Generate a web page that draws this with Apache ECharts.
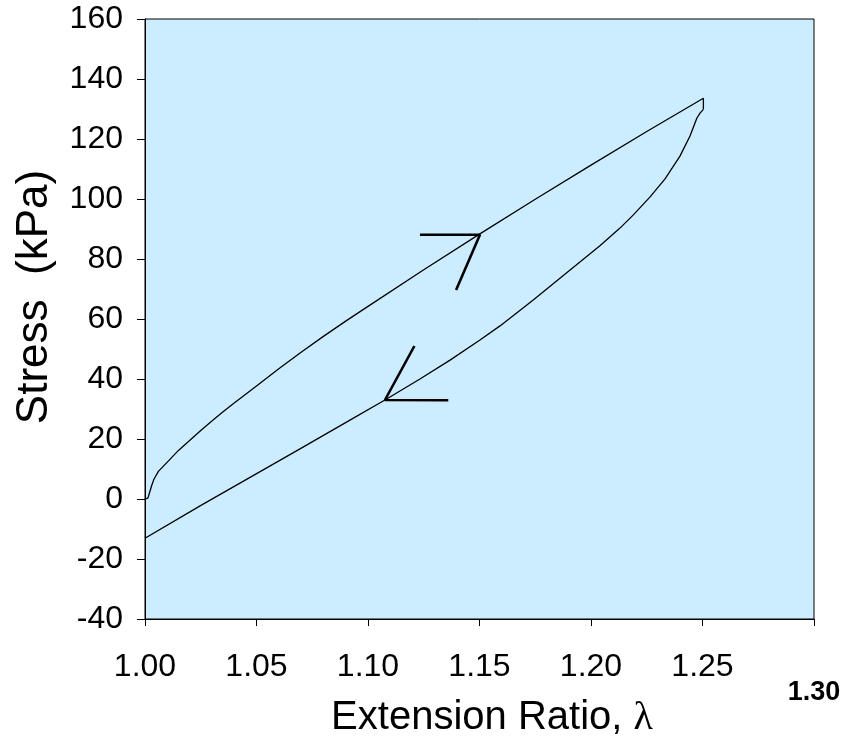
<!DOCTYPE html>
<html>
<head>
<meta charset="utf-8">
<script src="https://cdn.jsdelivr.net/npm/echarts@6/dist/echarts.min.js"></script>
<style>
  html, body { margin: 0; padding: 0; background: #fff; }
  #main { width: 848px; height: 749px; }
</style>
</head>
<body>
<div id="main"></div>
<script>
// loading branch (extension ratio, stress kPa)
var loadX = [1.0000, 1.0013, 1.0020, 1.0030, 1.0040, 1.0060, 1.0100, 1.0150, 1.0200, 1.0250,
  1.0300, 1.0350, 1.0400, 1.0500, 1.0600, 1.0700, 1.0800, 1.0900, 1.1000, 1.1250,
  1.1500, 1.1750, 1.2000, 1.2250, 1.2504, 1.2504];
var loadY = [0.0, 0.3, 2.0, 4.5, 6.6, 9.2, 12.3, 16.2, 19.5, 22.8,
  26.0, 29.1, 32.0, 37.7, 43.4, 48.9, 54.2, 59.3, 64.2, 76.4,
  88.3, 99.9, 111.3, 122.5, 133.6, 129.9];

// unloading branch
var unloadX = [1.2504, 1.2489, 1.2475, 1.2444, 1.2399, 1.2332, 1.2265, 1.2190, 1.2130, 1.2040,
  1.1891, 1.1741, 1.1592, 1.1502, 1.1368, 1.1233, 1.1076, 1.0919, 1.0695, 1.0471,
  1.0247, 1.0000];
var unloadY = [129.9, 128.6, 127.0, 121.0, 114.3, 106.7, 100.7, 94.7, 90.3, 84.4,
  75.4, 66.3, 57.7, 53.0, 46.3, 40.0, 33.0, 26.3, 16.7, 7.2,
  -2.3, -13.1];

// direction arrows
var arrowUpX = [1.1233, 1.1502, 1.1395];
var arrowUpY = [88.1, 88.1, 69.7];
var arrowDownX = [1.1208, 1.1076, 1.1360];
var arrowDownY = [51.0, 33.0, 32.9];

var xTicks = ['1.00', '1.05', '1.10', '1.15', '1.20', '1.25', '1.30'];

function pairs(xs, ys) {
  var out = [];
  for (var i = 0; i < xs.length; i++) out.push([xs[i], ys[i]]);
  return out;
}

var chart = echarts.init(document.getElementById('main'));
var font = 'Liberation Sans, Arial, sans-serif';

function curve(data, w) {
  return {
    type: 'line',
    data: data,
    showSymbol: false,
    symbol: 'none',
    lineStyle: { color: '#000', width: w },
    silent: true
  };
}

chart.setOption({
  backgroundColor: '#fff',
  animation: false,
  grid: {
    left: 145, right: 34, top: 19, bottom: 130,
    containLabel: false,
    outerBoundsMode: 'none',
    show: true,
    backgroundColor: '#CCECFF',
    borderColor: '#000',
    borderWidth: 1
  },
  xAxis: {
    type: 'value',
    min: 1.0, max: 1.3, interval: 0.05,
    name: 'Extension Ratio, {l|λ}',
    nameLocation: 'middle',
    nameGap: 79,
    nameMoveOverlap: false,
    nameTextStyle: {
      color: '#000', fontSize: 40, fontFamily: font,
      padding: [0, 0, 0, 25],
      rich: { l: { fontFamily: 'Liberation Serif, DejaVu Serif, serif', fontSize: 40, color: '#000' } }
    },
    axisLine: { onZero: false, lineStyle: { color: '#000', width: 1 } },
    axisTick: { show: true, length: 7, inside: false, lineStyle: { color: '#000' } },
    splitLine: { show: false },
    axisLabel: {
      color: '#000', fontSize: 32, fontFamily: font, margin: 32,
      formatter: function (v) {
        var s = v.toFixed(2);
        var idx = xTicks.indexOf(s);
        if (idx === xTicks.length - 1) return '{b|' + xTicks[idx] + '}';
        return idx >= 0 ? xTicks[idx] : '';
      },
      rich: {
        b: { fontSize: 27, fontWeight: 'bold', fontFamily: font, color: '#000', padding: [28, 0, 0, 0] }
      }
    }
  },
  yAxis: {
    type: 'value',
    min: -40, max: 160, interval: 20,
    name: 'Stress  (kPa)',
    nameLocation: 'middle',
    nameGap: 88,
    nameMoveOverlap: false,
    nameTextStyle: {
      color: '#000', fontSize: 44, fontFamily: font,
      padding: [0, 0, 0, 44]
    },
    axisLine: { show: true, lineStyle: { color: '#000', width: 1 } },
    axisTick: { show: true, length: 8, inside: false, lineStyle: { color: '#000' } },
    splitLine: { show: false },
    axisLabel: { color: '#000', fontSize: 32, fontFamily: font, margin: 22 }
  },
  series: [
    curve(pairs(loadX, loadY), 1.3),
    curve(pairs(unloadX, unloadY), 1.3),
    curve(pairs(arrowUpX, arrowUpY), 2.6),
    curve(pairs(arrowDownX, arrowDownY), 2.6)
  ]
});
</script>
</body>
</html>
